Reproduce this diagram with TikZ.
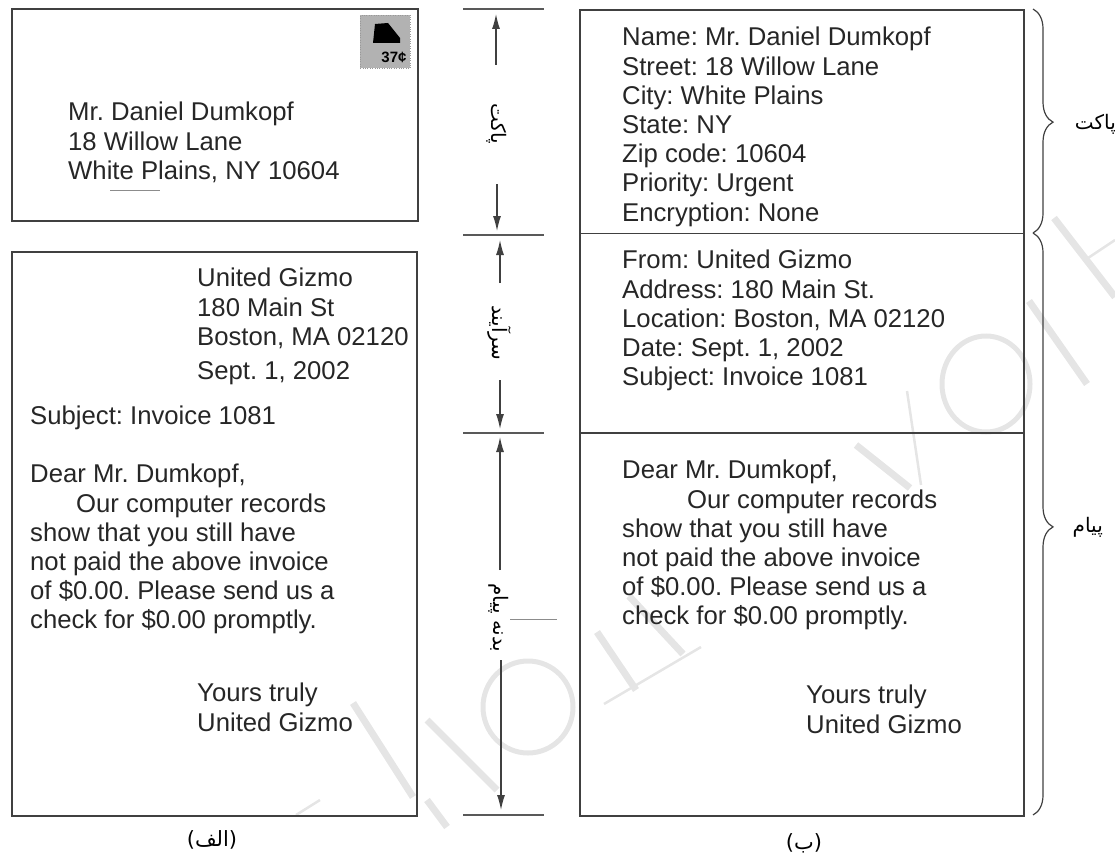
\documentclass[tikz,border=0pt]{standalone}
\usepackage{fontspec}
\setmainfont{Liberation Sans}
\newfontfamily\farsifont[Script=Arabic]{DejaVu Sans}
\TeXXeTstate=1
\frenchspacing
\usetikzlibrary{decorations.pathreplacing}
\usetikzlibrary{arrows.meta}
\usetikzlibrary{positioning}
\tikzset{
    sheet/.style={draw=black!75, line width=1.6pt, inner sep=0pt, anchor=north west},
    letter/.style={align=left, inner sep=0pt, anchor=north west, font=\fontsize{25.7}{29.2}\selectfont, text=black!85},
    rulemark/.style={draw=black!65, line width=1.6pt},
    dimarrow/.style={-{Latex[length=15pt,width=8pt]}, draw=black!75, line width=1.2pt},
    farsi/.style={font=\fontsize{20}{22}\farsifont, inner sep=0pt, text=black},
    bracemark/.style={draw=black!75, line width=1.2pt, decorate, decoration={brace, amplitude=20pt, aspect=0.505}},
    wmark/.style={draw=black!10, line width=7pt},
    wthin/.style={draw=black!10, line width=2.5pt},
    speck/.style={draw=black!45, line width=0.8pt}
}

\begin{document}
\begin{tikzpicture}[x=1pt, y=-1pt]

        \useasboundingbox (0,0) rectangle (1115,856);

        % Pale marks behind everything
        \foreach \xa/\ya/\xb/\yb in {1054/218/1115/297, 1029/301/1087/384, 856/445/910/488, 597/632/636/690, 629/596/683/654, 353/703/413/797, 427/720/497/790, 427/800/447/827} {
            \draw [wmark] (\xa,\ya) -- (\xb,\yb);
        }
        \foreach \xa/\ya/\xb/\yb in {907/391/921/485, 604/704/701/647, 296/815/320/800, 1085/260/1115/240} {
            \draw [wthin] (\xa,\ya) -- (\xb,\yb);
        }
        \draw [wmark, line width=5pt] (986,384) circle [x radius=44, y radius=48];
        \draw [wmark, line width=5pt] (528,707) circle [x radius=45, y radius=46];

        % Envelope and stamp
        \node [sheet, minimum width=406pt, minimum height=212pt] (envelope) at (11,8) {};
        \node [draw=black!40, fill=black!30, dotted, minimum width=50pt, minimum height=53pt, anchor=north west, inner sep=0pt] (stamp) at (360,15) {};
        \fill [black] (373,43) -- (375,24) -- (388,23) -- (400,38) -- (400,43) -- cycle;
        \node [inner sep=0pt, font=\bfseries\fontsize{15}{17}\selectfont] (stampvalue) at (394,57) {37¢};
        \node [letter] (recipient) at (68,102) {Mr. Daniel Dumkopf\\18 Willow Lane\\White Plains, NY 10604};
        \coordinate (speckleft) at (110,190);
        \coordinate (speckright) at (160,190);
        \draw [speck] (speckleft) -- (speckright);

        % Letter on the left
        \node [sheet, minimum width=405pt, minimum height=564pt] (letterbox) at (11,251) {};
        \node [letter] (sender) at (197,268) {United Gizmo\\180 Main St\\Boston, MA 02120};
        \node [letter] (datedline) at (197,361) {Sept. 1, 2002};
        \node [letter] (subject) at (30,406) {Subject: Invoice 1081};
        \node [letter] (body) at (30,464) {Dear Mr. Dumkopf,\\\hspace*{46pt}Our computer records\\show that you still have\\not paid the above invoice\\of \$0.00. Please send us a\\check for \$0.00 promptly.};
        \node [letter] (closing) at (197,683) {Yours truly\\United Gizmo};

        % Message on the right
        \node [sheet, minimum width=444pt, minimum height=806pt] (messagebox) at (579,9) {};
        \coordinate (envelopeleft) at (579,233);
        \coordinate (enveloperight) at (1023,233);
        \coordinate (headerleft) at (579,433);
        \coordinate (headerright) at (1023,433);
        \draw [black!75, line width=1pt] (envelopeleft) -- (enveloperight);
        \draw [black!75, line width=1.6pt] (headerleft) -- (headerright);
        \node [letter] (fields) at (622,27) {Name: Mr. Daniel Dumkopf\\Street: 18 Willow Lane\\City: White Plains\\State: NY\\Zip code: 10604\\Priority: Urgent\\Encryption: None};
        \node [letter] (header) at (622,250) {From: United Gizmo\\Address: 180 Main St.\\Location: Boston, MA 02120\\Date: Sept. 1, 2002\\Subject: Invoice 1081};
        \node [letter] (bodyright) at (622,460) {Dear Mr. Dumkopf,\\\hspace*{65pt}Our computer records\\show that you still have\\not paid the above invoice\\of \$0.00. Please send us a\\check for \$0.00 promptly.};
        \node [letter] (closingright) at (806,685) {Yours truly\\United Gizmo};

        % Rules and arrows in the middle
        \foreach \i/\y in {1/9, 2/235, 3/433, 4/815} {
            \coordinate (ruleleft\i) at (463,\y);
            \coordinate (ruleright\i) at (544,\y);
            \draw [rulemark] (ruleleft\i) -- (ruleright\i);
        }
        \node [farsi, rotate=-90] (lenvelope) at (497,124) {\beginR پاکت\endR};
        \node [farsi, rotate=-90] (lheader) at (499,333) {\beginR سرآیند\endR};
        \node [farsi, rotate=-90] (lbody) at (499,618) {\beginR بدنه پیام\endR};
        \foreach \i/\x/\from/\to in {1/496/65/14, 2/497/184/231, 3/500/283/240, 4/500/380/429, 5/500/570/437, 6/501/660/810} {
            \coordinate (tail\i) at (\x,\from);
            \coordinate (tip\i) at (\x,\to);
            \draw [dimarrow] (tail\i) -- (tip\i);
        }
        \coordinate (speckleftb) at (510,619);
        \coordinate (speckrightb) at (557,619);
        \draw [speck] (speckleftb) -- (speckrightb);

        % Braces on the right
        \draw [bracemark] (1033,9) -- (1033,233);
        \draw [bracemark] (1033,233) -- (1033,815);
        \node [farsi, anchor=east] (lpacket) at (1116,124) {\beginR پاکت\endR};
        \node [farsi, anchor=east] (lmessage) at (1103,527) {\beginR پیام\endR};

        % Captions
        \node [farsi, font=\fontsize{21}{23}\farsifont] (captiona) at (212,840) {\beginR (الف)\endR};
        \node [farsi, font=\fontsize{21}{23}\farsifont] (captionb) at (804,843) {\beginR (ب)\endR};

    \end{tikzpicture}
\end{document}
